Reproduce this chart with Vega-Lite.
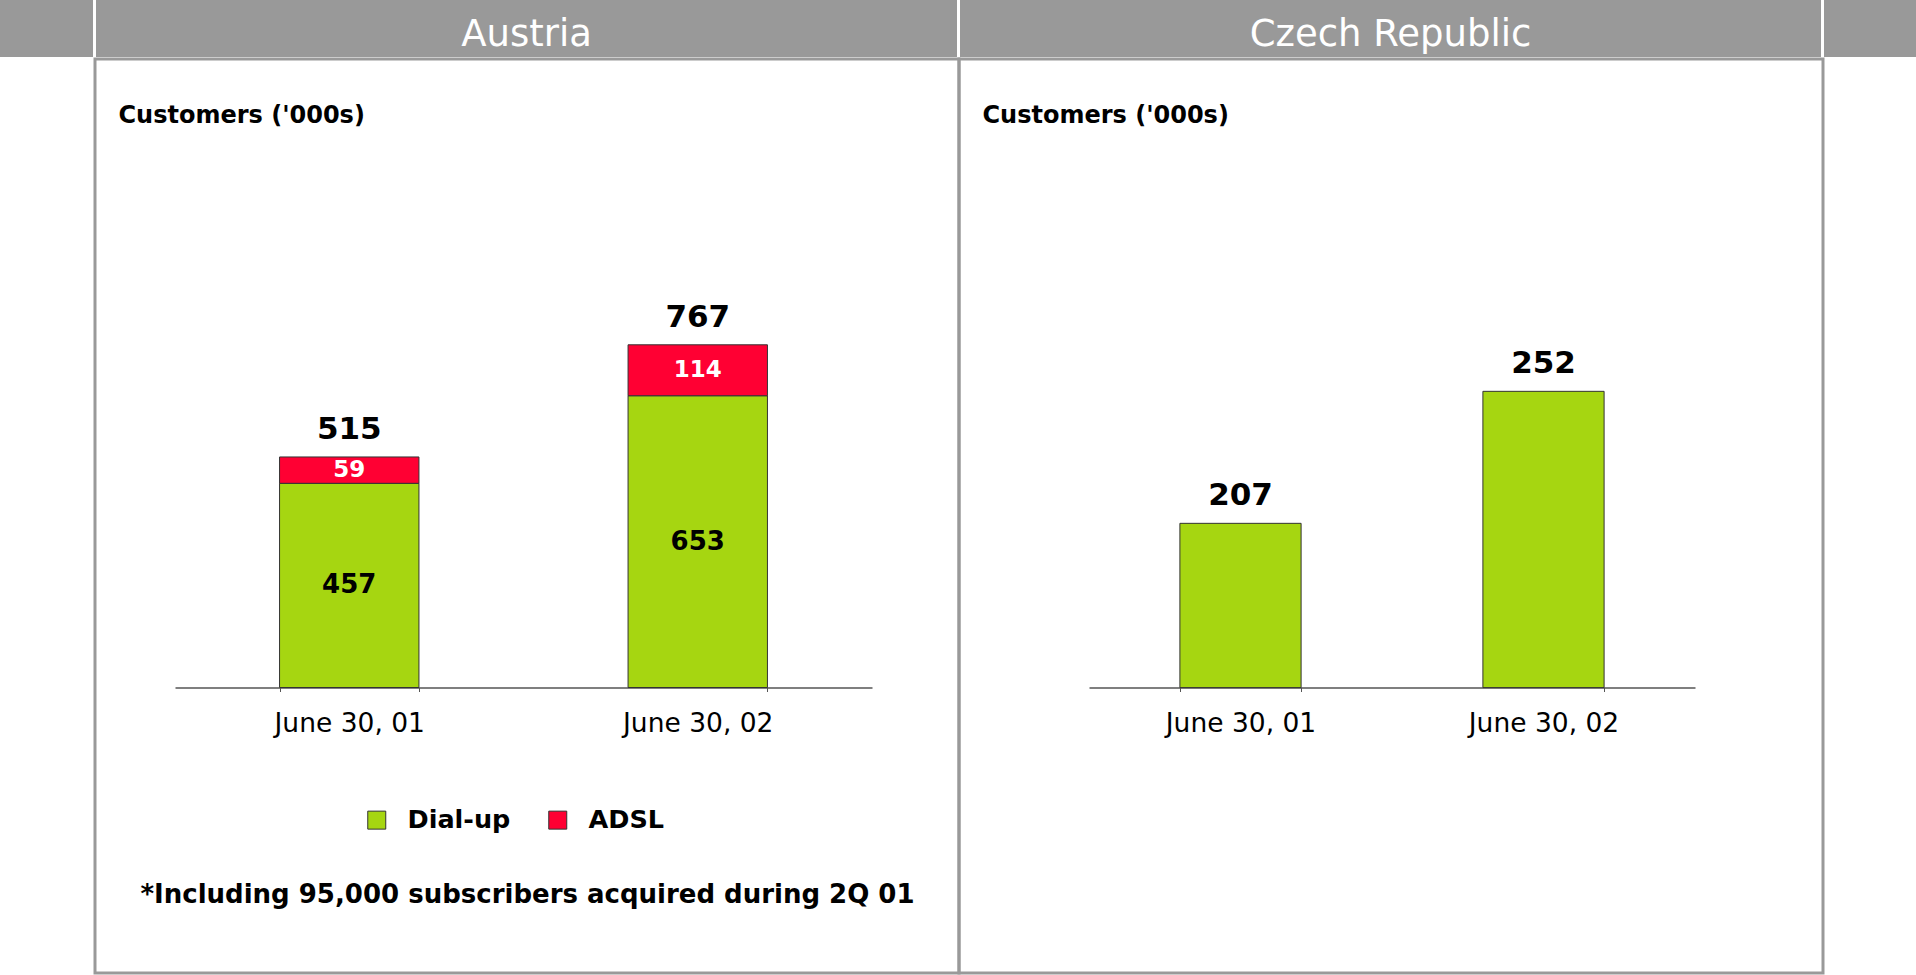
{
  "$schema": "https://vega.github.io/schema/vega-lite/v6.json",
  "padding": 0,
  "spacing": 0,
  "config": {"font": "DejaVu Sans", "view": {"stroke": null}},
  "datasets": {
    "austria": [
      {"date": "June 30, 01", "type": "Dial-up", "value": 457},
      {"date": "June 30, 01", "type": "ADSL", "value": 59},
      {"date": "June 30, 02", "type": "Dial-up", "value": 653},
      {"date": "June 30, 02", "type": "ADSL", "value": 114}
    ],
    "austriaTotals": [
      {"date": "June 30, 01", "total": 515},
      {"date": "June 30, 02", "total": 767}
    ],
    "czech": [
      {"date": "June 30, 01", "value": 207},
      {"date": "June 30, 02", "value": 252}
    ],
    "blank": [{"t": ""}]
  },
  "vconcat": [
    {
      "bounds": "flush",
      "spacing": 3,
      "hconcat": [
        {"width": 93, "height": 57, "view": {"fill": "#999999", "stroke": null},
         "data": {"name": "blank"}, "mark": {"type": "text"}, "encoding": {"text": {"field": "t"}}},
        {"width": 861, "height": 57, "view": {"fill": "#999999", "stroke": null},
         "data": {"values": [{"t": "Austria"}]},
         "mark": {"type": "text", "color": "white", "fontSize": 37, "baseline": "alphabetic", "dy": 17},
         "encoding": {"text": {"field": "t"}}},
        {"width": 861, "height": 57, "view": {"fill": "#999999", "stroke": null},
         "data": {"values": [{"t": "Czech Republic"}]},
         "mark": {"type": "text", "color": "white", "fontSize": 37, "baseline": "alphabetic", "dy": 17},
         "encoding": {"text": {"field": "t"}}},
        {"width": 92, "height": 57, "view": {"fill": "#999999", "stroke": null},
         "data": {"name": "blank"}, "mark": {"type": "text"}, "encoding": {"text": {"field": "t"}}}
      ]
    },
    {
      "bounds": "flush",
      "spacing": 0,
      "hconcat": [
        {"width": 95, "height": 914, "view": {"stroke": null},
         "data": {"name": "blank"}, "mark": {"type": "text"}, "encoding": {"text": {"field": "t"}}},
        {
          "width": 864, "height": 914,
          "view": {"stroke": "#999999", "strokeWidth": 3},
          "layer": [
            {
              "data": {"name": "austria"},
              "mark": {"type": "bar", "stroke": "#333333", "strokeWidth": 1},
              "encoding": {
                "x": {"field": "date", "type": "nominal",
                  "scale": {"range": [80, 777], "paddingInner": 0.6, "paddingOuter": 0.3},
                  "axis": {"orient": "bottom", "offset": -285.5, "domain": true, "domainColor": "#555555", "domainWidth": 1.5,
                    "ticks": true, "tickBand": "extent", "tickSize": 4, "tickColor": "#555555",
                    "labelPadding": 19, "labelFontSize": 26.5, "labelColor": "black", "labelAngle": 0,
                    "grid": false,
                    "title": "*Including 95,000 subscribers acquired during 2Q 01",
                    "titleFontSize": 26, "titleFontWeight": "bold", "titleColor": "black",
                    "titleX": 432, "titleY": 215, "titleAlign": "center", "titleBaseline": "alphabetic"}},
                "y": {"field": "value", "type": "quantitative", "stack": "zero",
                  "scale": {"domain": [-639, 1406.7], "nice": false, "zero": false},
                  "axis": {"domain": false, "ticks": false, "labels": false, "grid": false,
                    "title": "Customers ('000s)", "titleAngle": 0, "titleAlign": "left", "titleBaseline": "alphabetic",
                    "titleX": 23, "titleY": 63.5, "titleFontSize": 24, "titleFontWeight": "bold", "titleColor": "black"}},
                "color": {"field": "type", "type": "nominal",
                  "scale": {"domain": ["Dial-up", "ADSL"], "range": ["#a6d611", "#ff0033"]},
                  "legend": {"orient": "none", "legendX": 364, "legendY": 807, "direction": "horizontal", "title": null,
                    "symbolType": "square", "symbolSize": 324, "symbolStrokeColor": "#333333", "symbolStrokeWidth": 1,
                    "symbolOpacity": 1, "labelFontSize": 25.5, "labelFontWeight": "bold", "labelColor": "black",
                    "labelOffset": 18, "columnPadding": 34, "padding": 0}},
                "order": {"field": "type", "sort": "descending"}
              }
            },
            {
              "data": {"name": "austria"},
              "mark": {"type": "text", "fontWeight": "bold", "baseline": "middle"},
              "encoding": {
                "x": {"field": "date", "type": "nominal"},
                "y": {"field": "value", "type": "quantitative", "stack": "zero", "bandPosition": 0.5},
                "detail": {"field": "type"},
                "order": {"field": "type", "sort": "descending"},
                "text": {"field": "value"},
                "color": {"condition": {"test": "datum.type === 'ADSL'", "value": "white"}, "value": "black"},
                "size": {"condition": {"test": "datum.type === 'ADSL'", "value": 23}, "value": 26}
              }
            },
            {
              "data": {"name": "austriaTotals"},
              "mark": {"type": "text", "fontWeight": "bold", "fontSize": 31, "baseline": "alphabetic", "dy": -18, "color": "black"},
              "encoding": {
                "x": {"field": "date", "type": "nominal"},
                "y": {"field": "total", "type": "quantitative"},
                "text": {"field": "total"}
              }
            }
          ]
        },
        {
          "width": 864, "height": 914,
          "view": {"stroke": "#999999", "strokeWidth": 3},
          "layer": [
            {
              "data": {"name": "czech"},
              "mark": {"type": "bar", "fill": "#a6d611", "stroke": "#333333", "strokeWidth": 1},
              "encoding": {
                "x": {"field": "date", "type": "nominal",
                  "scale": {"range": [130, 736], "paddingInner": 0.6, "paddingOuter": 0.3},
                  "axis": {"orient": "bottom", "offset": -285.5, "domain": true, "domainColor": "#555555", "domainWidth": 1.5,
                    "ticks": true, "tickBand": "extent", "tickSize": 4, "tickColor": "#555555",
                    "labelPadding": 19, "labelFontSize": 26.5, "labelColor": "black", "labelAngle": 0,
                    "grid": false, "title": null}},
                "y": {"field": "value", "type": "quantitative",
                  "scale": {"domain": [53.7, 365.3], "nice": false, "zero": false},
                  "axis": {"domain": false, "ticks": false, "labels": false, "grid": false,
                    "title": "Customers ('000s)", "titleAngle": 0, "titleAlign": "left", "titleBaseline": "alphabetic",
                    "titleX": 23, "titleY": 63.5, "titleFontSize": 24, "titleFontWeight": "bold", "titleColor": "black"}},
                "y2": {"datum": 151}
              }
            },
            {
              "data": {"name": "czech"},
              "mark": {"type": "text", "fontWeight": "bold", "fontSize": 31, "baseline": "alphabetic", "dy": -18, "color": "black"},
              "encoding": {
                "x": {"field": "date", "type": "nominal"},
                "y": {"field": "value", "type": "quantitative"},
                "text": {"field": "value"}
              }
            }
          ]
        }
      ]
    }
  ]
}
